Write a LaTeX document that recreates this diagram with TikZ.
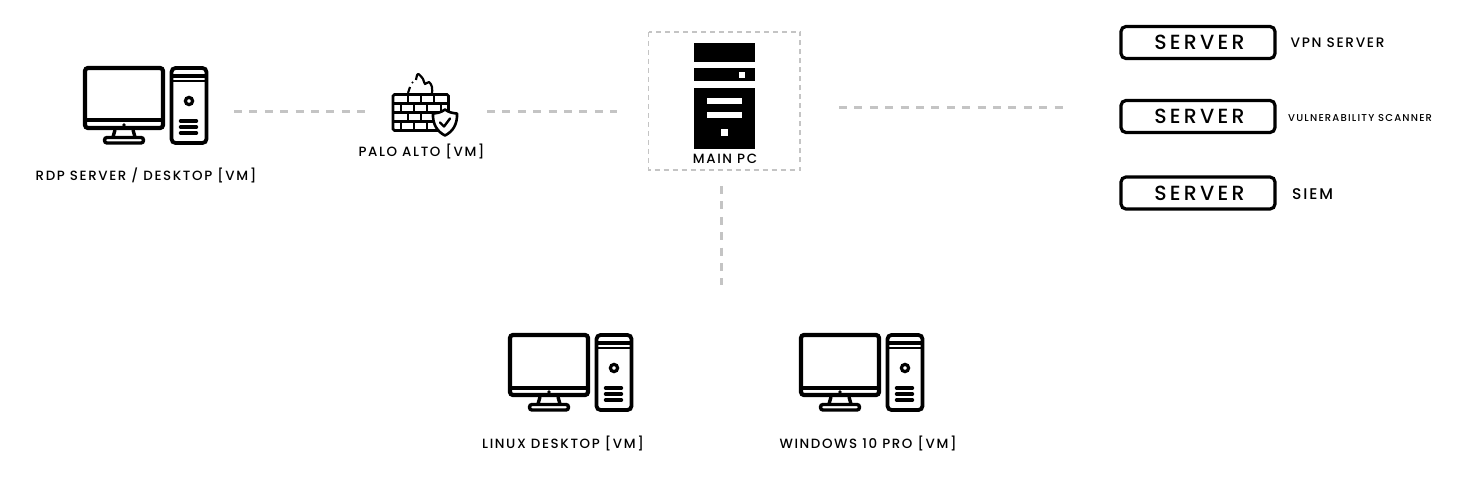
\documentclass[tikz,border=0pt]{standalone}
\usepackage{fontspec}
\setmainfont{Poppins}
\newfontfamily\spaced[LetterSpace=12]{Poppins Medium}
\newfontfamily\spacedwide[LetterSpace=16]{Poppins Medium}
\tikzset{
  link/.style={draw=linkgray,line width=3pt,dash pattern=on 8pt off 7.4pt},
  caption/.style={inner sep=0pt,text=black,font=\spaced\fontsize{13.4}{15}\selectfont},
  serverbox/.style={draw=black,line width=3.2pt,rounded corners=5pt,minimum width=154pt,minimum height=32pt,inner sep=0pt,font=\spacedwide\fontsize{20.5}{23}\selectfont},
  desktop/.pic={
    \draw[line width=4.2pt,rounded corners=3pt] (85,68) rectangle (163,128);
    \draw[line width=4pt] (85,120.5) -- (163,120.5);
    \fill (124,125) circle(1.8);
    \draw[line width=3.4pt] (115,130) -- (113,137);
    \draw[line width=3.4pt] (133,130) -- (135,137);
    \draw[line width=3.4pt,rounded corners=2.5pt] (104.5,137.5) rectangle (143.5,143);
    \draw[line width=3.8pt,rounded corners=4pt] (171.5,68) rectangle (206.5,143);
    \draw[line width=3.4pt] (171.5,76) -- (206.5,76);
    \draw[line width=1.8pt] (171.5,81) -- (206.5,81);
    \draw[line width=3.2pt] (189,101) circle(3.6);
    \foreach \barY in {121,127,133}
      \draw[line width=3.4pt,line cap=round] (180.5,\barY) -- (196.5,\barY);
  }
}
\definecolor{linkgray}{HTML}{C4C4C4}
\begin{document}
\begin{tikzpicture}[x=1pt,y=-1pt]
  \useasboundingbox (0,0) rectangle (1460,484);
  % workstations
  \pic at (0,0) {desktop};
  \pic at (425,267) {desktop};
  \pic at (716,267) {desktop};
  \node[caption] (rdpLabel) at (146,175.5) {RDP SERVER / DESKTOP [VM]};
  \node[caption] (linuxLabel) at (563,443.5) {LINUX DESKTOP [VM]};
  \node[caption] (winLabel) at (868,443.5) {WINDOWS 10 PRO [VM]};
  % firewall
  \draw[line width=2.8pt,rounded corners=1.5pt] (393,94.5) rectangle (448.5,130.5);
  \draw[line width=2.6pt] (393,103.5) -- (448.5,103.5) (393,112.5) -- (448.5,112.5) (393,121.5) -- (448.5,121.5);
  \foreach \jointX in {408,421,434} {
    \draw[line width=2.6pt] (\jointX,94.5) -- (\jointX,103.5);
    \draw[line width=2.6pt] (\jointX,112.5) -- (\jointX,121.5);
  }
  \foreach \jointX in {401,414,427,441} {
    \draw[line width=2.6pt] (\jointX,103.5) -- (\jointX,112.5);
    \draw[line width=2.6pt] (\jointX,121.5) -- (\jointX,130.5);
  }
  \draw[line width=2.2pt,line join=round] plot[smooth,tension=0.7] coordinates {(408,93) (410,87)};
  \fill (412.5,82.5) circle(1.2);
  \draw[line width=2.2pt,line join=round] plot[smooth,tension=0.6] coordinates {(416,80) (418,74) (423,79) (425,84) (429,82) (432,87) (432,93)};
  \draw[fill=white,line width=2.6pt,line join=round] (445,109.5) .. controls (449,112.5) and (452,113) .. (457,113.5) .. controls (457.5,124) and (453,131.5) .. (445,135.5) .. controls (437,131.5) and (432.5,124) .. (433,113.5) .. controls (438,113) and (441,112.5) .. (445,109.5) -- cycle;
  \draw[line width=2.4pt,line cap=round,line join=round] (440,122.5) -- (444,126.5) -- (450,118.5);
  \node[caption] (paloLabel) at (421.5,151.5) {PALO ALTO [VM]};
  % main pc
  \draw[draw=linkgray,line width=1.8pt,dash pattern=on 5pt off 4pt] (648.5,32) rectangle (800,170);
  \fill (694,43) rectangle (755,62);
  \fill (694,68) rectangle (755,81);
  \fill (694,88) rectangle (755,149);
  \fill[white] (739,72) rectangle (745,78);
  \fill[white] (707,98) rectangle (742,104);
  \fill[white] (707,112) rectangle (742,118);
  \fill[white] (721,129) rectangle (728,136);
  \node[caption] (mainLabel) at (725,159) {MAIN PC};
  % servers
  \node[serverbox] (vpn) at (1198,42.5) {\hspace{3pt}SERVER};
  \node[serverbox] (scanner) at (1198,116.5) {\hspace{3pt}SERVER};
  \node[serverbox] (siem) at (1198,193) {\hspace{3pt}SERVER};
  \node[caption,anchor=west,font=\spaced\fontsize{13.7}{15}\selectfont] (vpnLabel) at (1290.5,43) {VPN SERVER};
  \node[caption,anchor=west,font=\spaced\fontsize{10}{11}\selectfont] (scannerLabel) at (1288,118) {VULNERABILITY SCANNER};
  \node[caption,anchor=west,font=\spaced\fontsize{15.5}{17}\selectfont] (siemLabel) at (1292,194) {SIEM};
  % links
  \coordinate (rdpEnd) at (234,111.5);
  \coordinate (fwIn) at (365,111.5);
  \coordinate (fwOut) at (487,111.5);
  \coordinate (mainIn) at (617,111.5);
  \coordinate (mainOut) at (839,107.5);
  \coordinate (serverIn) at (1063,107.5);
  \coordinate (mainDown) at (721,186);
  \coordinate (deskUp) at (721,285);
  \draw[link] (rdpEnd) -- (fwIn);
  \draw[link] (fwOut) -- (mainIn);
  \draw[link] (mainOut) -- (serverIn);
  \draw[link] (mainDown) -- (deskUp);
\end{tikzpicture}
\end{document}
